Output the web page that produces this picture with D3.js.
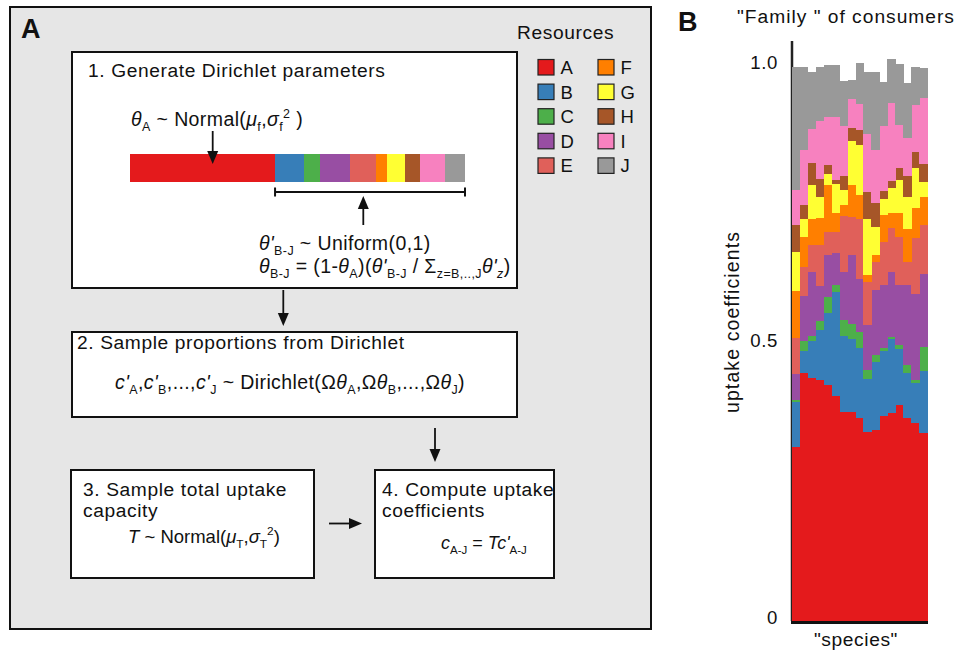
<!DOCTYPE html>
<html>
<head>
<meta charset="utf-8">
<script src="https://cdn.jsdelivr.net/npm/d3@7"></script>
<style>
body { margin: 0; background: #fff; }
text { font-family: "Liberation Sans", Arial, Helvetica, sans-serif; fill: #111; }
.ttl { font-size: 19.2px; letter-spacing: 0.6px; }
</style>
</head>
<body>
<div id="fig"></div>
<script>
// resources and their colours
var resources = ["A", "B", "C", "D", "E", "F", "G", "H", "I", "J"];
var resColors = ["#e41a1c", "#377eb8", "#4daf4a", "#984ea3", "#e0605a",
                 "#ff7f00", "#ffff33", "#a65628", "#f781bf", "#999999"];

// example Dirichlet parameters shown as the bar in step 1
var thetaExample = [0.433, 0.085, 0.048, 0.092, 0.075, 0.035, 0.052, 0.046, 0.074, 0.060];

// panel B: uptake coefficients of 17 "species" of one family
var species = ["s1", "s2", "s3", "s4", "s5", "s6", "s7", "s8", "s9",
               "s10", "s11", "s12", "s13", "s14", "s15", "s16", "s17"];
var uptakeA = [0.313, 0.446, 0.438, 0.434, 0.425, 0.406, 0.377, 0.377, 0.366, 0.341, 0.344, 0.370, 0.374, 0.389, 0.365, 0.356, 0.339];
var uptakeB = [0.082, 0.041, 0.067, 0.090, 0.130, 0.186, 0.136, 0.131, 0.125, 0.095, 0.123, 0.117, 0.134, 0.101, 0.082, 0.073, 0.111];
var uptakeC = [0.004, 0.018, 0.008, 0.016, 0.028, 0.013, 0.030, 0.028, 0.030, 0.016, 0.012, 0.005, 0.004, 0.007, 0.014, 0.005, 0.044];
var uptakeD = [0.046, 0.081, 0.116, 0.064, 0.076, 0.058, 0.085, 0.123, 0.095, 0.081, 0.117, 0.114, 0.117, 0.108, 0.144, 0.155, 0.132];
var uptakeE = [0.065, 0.052, 0.048, 0.073, 0.042, 0.038, 0.101, 0.069, 0.109, 0.077, 0.051, 0.076, 0.079, 0.087, 0.042, 0.101, 0.087];
var uptakeF = [0.084, 0.054, 0.048, 0.049, 0.084, 0.034, 0.021, 0.057, 0.042, 0.013, 0.012, 0.050, 0.027, 0.043, 0.060, 0.054, 0.051];
var uptakeG = [0.071, 0.033, 0.060, 0.038, 0.020, 0.052, 0.027, 0.079, 0.090, 0.102, 0.051, 0.029, 0.045, 0.059, 0.057, 0.072, 0.027];
var uptakeH = [0.048, 0.025, 0.041, 0.033, 0.016, 0.008, 0.025, 0.024, 0.028, 0.048, 0.043, 0.013, 0.013, 0.022, 0.038, 0.029, 0.033];
var uptakeI = [0.064, 0.099, 0.061, 0.104, 0.087, 0.114, 0.090, 0.053, 0.046, 0.105, 0.096, 0.117, 0.141, 0.077, 0.069, 0.085, 0.119];
var uptakeJ = [0.221, 0.149, 0.102, 0.097, 0.094, 0.093, 0.081, 0.034, 0.074, 0.111, 0.140, 0.081, 0.079, 0.111, 0.098, 0.069, 0.053];

var yTicks = [0, 0.5, 1.0];
var yTickLabels = ["0", "0.5", "1.0"];

var W = 958, H = 658;
var svg = d3.select("#fig").append("svg")
    .attr("width", W)
    .attr("height", H);

// helper for text with italic / sub / superscripts
// flags: i = italic, b = subscript, p = superscript
function richText(g, x, y, parts, size, ls) {
    var t = g.append("text").attr("x", x).attr("y", y)
        .style("font-size", size + "px").style("letter-spacing", (ls || 0) + "px");
    var shift = 0;
    parts.forEach(function(p) {
        var f = p[1] || "";
        var target = 0, fs = size;
        if (f.indexOf("b") >= 0) { target = size * 0.28; fs = size * 0.64; }
        if (f.indexOf("p") >= 0) { target = -size * 0.42; fs = size * 0.64; }
        var ts = t.append("tspan")
            .text(p[0])
            .attr("dy", target - shift)
            .style("font-size", fs + "px");
        if (f.indexOf("i") >= 0) ts.style("font-style", "italic");
        shift = target;
    });
    return t;
}

function arrow(g, x1, y1, x2, y2) {
    var ang = Math.atan2(y2 - y1, x2 - x1);
    var len = 13, half = 5.5;
    var bx = x2 - len * Math.cos(ang), by = y2 - len * Math.sin(ang);
    g.append("line")
        .attr("x1", x1).attr("y1", y1).attr("x2", bx).attr("y2", by)
        .attr("stroke", "#111").attr("stroke-width", 1.8);
    g.append("path")
        .attr("d", "M" + x2 + "," + y2 +
            "L" + (bx + half * Math.sin(ang)) + "," + (by - half * Math.cos(ang)) +
            "L" + (bx - half * Math.sin(ang)) + "," + (by + half * Math.cos(ang)) + "Z")
        .attr("fill", "#111");
}

function box(g, x, y, w, h) {
    g.append("rect")
        .attr("x", x).attr("y", y).attr("width", w).attr("height", h)
        .attr("fill", "#fff").attr("stroke", "#111").attr("stroke-width", 2);
}

// ---------------- panel A ----------------
var pa = svg.append("g");
pa.append("rect")
    .attr("x", 10).attr("y", 7).attr("width", 641).attr("height", 622)
    .attr("fill", "#e6e6e6").attr("stroke", "#111").attr("stroke-width", 2);
pa.append("text").attr("x", 21).attr("y", 38)
    .style("font-size", "27px").style("font-weight", "bold").text("A");

// legend
pa.append("text").attr("class", "ttl").attr("x", 517).attr("y", 39).text("Resources");
var leg = pa.selectAll("g.leg").data(resources).enter().append("g")
    .attr("class", "leg")
    .attr("transform", function(d, i) {
        return "translate(" + (538 + Math.floor(i / 5) * 60) + "," + (59.5 + (i % 5) * 24.6) + ")";
    });
leg.append("rect")
    .attr("width", 16).attr("height", 15.5)
    .attr("fill", function(d, i) { return resColors[i]; })
    .attr("stroke", "#222").attr("stroke-width", 1.2);
leg.append("text").attr("x", 22.5).attr("y", 14.5)
    .style("font-size", "18.5px").text(function(d) { return d; });

// step 1
box(pa, 72, 52, 445, 236);
pa.append("text").attr("class", "ttl").attr("x", 88).attr("y", 77)
    .text("1. Generate Dirichlet parameters");
richText(pa, 131, 126, [["θ", "i"], ["A", "b"], [" ~ Normal("], ["μ", "i"], ["f", "b"], [","],
    ["σ", "i"], ["f", "b"], ["2", "p"], [" )"]], 19.5, 0.4);

var xb = d3.scaleLinear().domain([0, 1]).range([130, 465]);
var thetaCum = d3.cumsum(thetaExample);
pa.selectAll("rect.theta").data(thetaExample).enter().append("rect")
    .attr("class", "theta")
    .attr("x", function(d, i) { return xb(thetaCum[i] - d); })
    .attr("y", 154)
    .attr("width", function(d) { return xb(d) - xb(0); })
    .attr("height", 28)
    .attr("fill", function(d, i) { return resColors[i]; })
    .attr("shape-rendering", "crispEdges");
arrow(pa, 212.7, 131, 212.7, 164);

// bracket over B-J
var bx0 = xb(thetaExample[0]), bx1 = xb(d3.sum(thetaExample));
pa.append("path")
    .attr("d", "M" + bx0 + ",187.5V196.5M" + bx0 + ",192H" + bx1 + "M" + bx1 + ",187.5V196.5")
    .attr("stroke", "#111").attr("stroke-width", 2).attr("fill", "none");
arrow(pa, 363.3, 225, 363.3, 196);
richText(pa, 259, 250, [["θ'", "i"], ["B-J", "b"], [" ~ Uniform(0,1)"]], 19.5, 0.4);
richText(pa, 259, 273, [["θ", "i"], ["B-J", "b"], [" = (1-"], ["θ", "i"], ["A", "b"], [")("],
    ["θ'", "i"], ["B-J", "b"], [" / Σ"], ["z=B,..,J", "b"], ["θ'", "i"], ["z", "bi"], [")"]], 19.5, 0.4);

arrow(pa, 283.3, 290, 283.3, 326);

// step 2
box(pa, 72, 332, 445, 85);
pa.append("text").attr("class", "ttl").attr("x", 77).attr("y", 349)
    .text("2. Sample proportions from Dirichlet");
richText(pa, 115, 389, [["c'", "i"], ["A", "b"], [","], ["c'", "i"], ["B", "b"], [",...,"],
    ["c'", "i"], ["J", "b"], [" ~ Dirichlet(Ω"], ["θ", "i"], ["A", "b"], [",Ω"], ["θ", "i"], ["B", "b"],
    [",...,Ω"], ["θ", "i"], ["J", "b"], [")"]], 19.5, 0.4);

arrow(pa, 435, 428, 435, 462);

// step 3
box(pa, 71, 470, 243, 108);
pa.append("text").attr("class", "ttl").attr("x", 83).attr("y", 496).text("3. Sample total uptake");
pa.append("text").attr("class", "ttl").attr("x", 83).attr("y", 516.5).text("capacity");
richText(pa, 128, 543, [["T", "i"], [" ~ Normal("], ["μ", "i"], ["T", "b"], [","], ["σ", "i"], ["T", "b"],
    ["2", "p"], [")"]], 18.5, 0);

arrow(pa, 329, 523.5, 362, 523.5);

// step 4
box(pa, 375, 470, 179, 108);
pa.append("text").attr("class", "ttl").attr("x", 382).attr("y", 496).text("4. Compute uptake");
pa.append("text").attr("class", "ttl").attr("x", 382).attr("y", 516.5).text("coefficients");
richText(pa, 441, 549, [["c", "i"], ["A-J", "b"], [" = "], ["Tc'", "i"], ["A-J", "b"]], 18, 0);

// ---------------- panel B ----------------
var pb = svg.append("g");
pb.append("text").attr("x", 678).attr("y", 31)
    .style("font-size", "27px").style("font-weight", "bold").text("B");
pb.append("text").attr("class", "ttl").attr("x", 737).attr("y", 23)
    .style("letter-spacing", "1px")
    .text("\"Family \" of consumers");

var series = [uptakeA, uptakeB, uptakeC, uptakeD, uptakeE, uptakeF, uptakeG, uptakeH, uptakeI, uptakeJ];
var rows = species.map(function(s, j) {
    var r = { species: s };
    resources.forEach(function(k, i) { r[k] = series[i][j]; });
    return r;
});
var stacked = d3.stack().keys(resources)(rows);

var x = d3.scaleBand().domain(species).range([792, 927]).padding(0);
var y = d3.scaleLinear().domain([0, 1]).range([621, 66]);

// axis line (only visible above the bars)
pb.append("line")
    .attr("x1", 792).attr("x2", 792)
    .attr("y1", y(1.045)).attr("y2", y(0))
    .attr("stroke", "#222").attr("stroke-width", 2.5);

pb.selectAll("g.layer").data(stacked).enter().append("g")
    .attr("class", "layer")
    .attr("fill", function(d, i) { return resColors[i]; })
    .selectAll("rect").data(function(d) { return d; }).enter().append("rect")
    .attr("x", function(d) { return x(d.data.species); })
    .attr("y", function(d) { return y(d[1]); })
    .attr("width", x.bandwidth() + 0.5)
    .attr("height", function(d) { return y(d[0]) - y(d[1]); })
    .attr("shape-rendering", "crispEdges");

// bottom line
pb.append("line")
    .attr("x1", 791).attr("x2", 928)
    .attr("y1", y(0) + 1.5).attr("y2", y(0) + 1.5)
    .attr("stroke", "#111").attr("stroke-width", 3);

var yAxis = pb.append("g")
    .attr("transform", "translate(792,0)")
    .call(d3.axisLeft(y).tickValues(yTicks).tickSize(0).tickPadding(14)
        .tickFormat(function(d, i) { return yTickLabels[i]; }));
yAxis.select(".domain").remove();
yAxis.selectAll("text")
    .style("font-size", "18.6px")
    .style("letter-spacing", "0.6px")
    .style("font-family", "\"Liberation Sans\", Arial, sans-serif")
    .attr("fill", "#111")
    .attr("dy", "0.15em");

pb.append("text")
    .attr("transform", "translate(739,322) rotate(-90)")
    .attr("text-anchor", "middle")
    .style("font-size", "19.5px").style("letter-spacing", "1.1px")
    .text("uptake coefficients");
pb.append("text").attr("class", "ttl")
    .attr("x", 856).attr("y", 646).attr("text-anchor", "middle")
    .text("\"species\"");
</script>
</body>
</html>
